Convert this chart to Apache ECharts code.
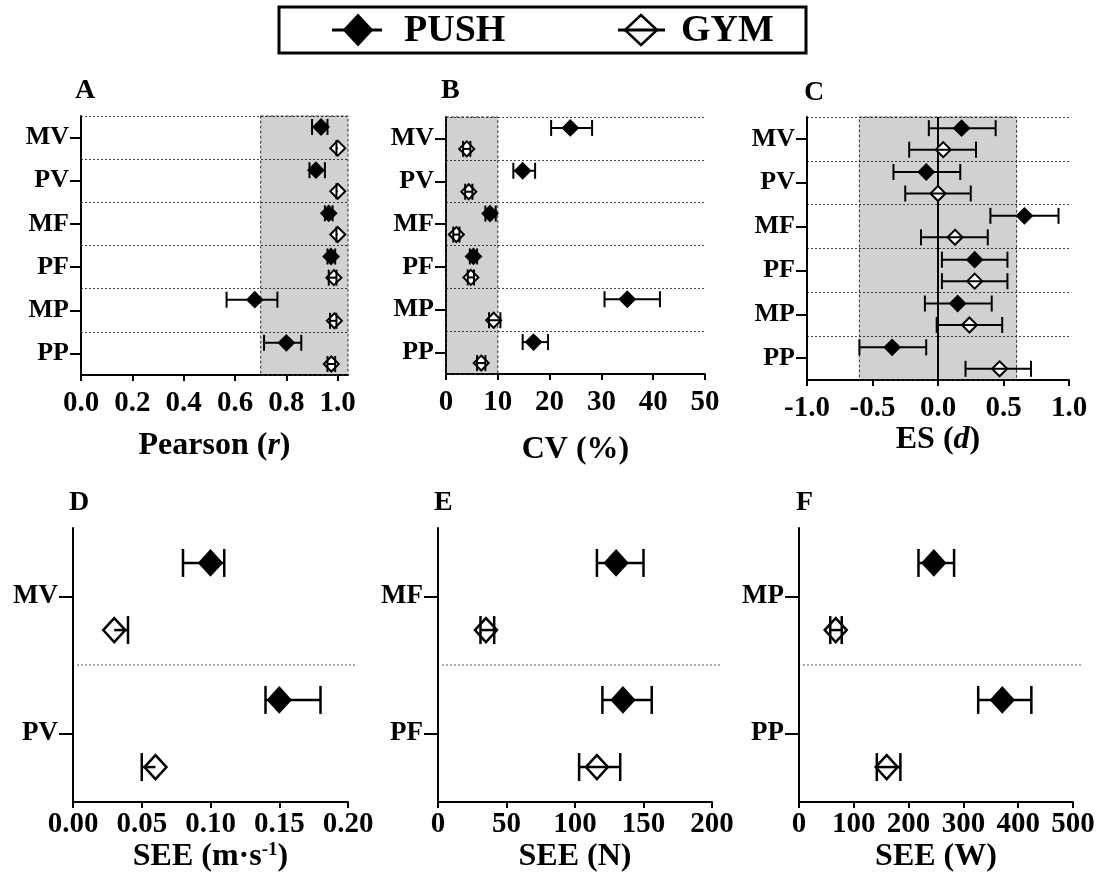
<!DOCTYPE html>
<html><head><meta charset="utf-8">
<script src="https://cdn.jsdelivr.net/npm/echarts@6/dist/echarts.min.js"></script>
<style>html,body{margin:0;padding:0;background:#fff}#c{width:1101px;height:881px}</style>
</head><body><div id="c"></div>
<script>
// ---------- data ----------
const categories = ['MV', 'PV', 'MF', 'PF', 'MP', 'PP'];
// each entry: [mean, lower CI, upper CI]
const pearsonPush = [[0.935, 0.90, 0.96], [0.915, 0.89, 0.95], [0.965, 0.95, 0.98], [0.974, 0.96, 0.99], [0.677, 0.567, 0.765], [0.80, 0.713, 0.858]];
const pearsonGym  = [[1.0, 0.995, 1.0], [1.0, 0.995, 1.0], [1.0, 0.995, 1.0], [0.985, 0.965, 0.995], [0.987, 0.97, 0.995], [0.975, 0.96, 0.99]];
const cvPush = [[24.0, 20.3, 28.2], [14.8, 13.0, 17.2], [8.5, 7.6, 9.6], [5.3, 4.6, 6.0], [35.0, 30.6, 41.3], [16.9, 14.8, 19.7]];
const cvGym  = [[4.0, 3.3, 4.7], [4.4, 3.7, 5.1], [2.0, 1.4, 2.6], [4.8, 4.2, 5.4], [9.2, 8.3, 10.5], [6.8, 6.0, 7.6]];
const esPush = [[0.18, -0.07, 0.44], [-0.09, -0.34, 0.17], [0.66, 0.40, 0.92], [0.28, 0.03, 0.53], [0.15, -0.10, 0.41], [-0.35, -0.60, -0.09]];
const esGym  = [[0.04, -0.22, 0.29], [0.0, -0.25, 0.25], [0.13, -0.13, 0.38], [0.28, 0.03, 0.53], [0.24, -0.01, 0.49], [0.47, 0.21, 0.71]];

const velCategories = ['MV', 'PV'];
const seeVelPush = [[0.10, 0.08, 0.11], [0.15, 0.14, 0.18]];
const seeVelGym  = [[0.03, 0.03, 0.04], [0.06, 0.05, 0.06]];
const forceCategories = ['MF', 'PF'];
const seeForcePush = [[130, 116, 150], [135, 120, 156]];
const seeForceGym  = [[35, 31, 41], [116, 103, 133]];
const powerCategories = ['MP', 'PP'];
const seePowerPush = [[246, 218, 283], [371, 327, 424]];
const seePowerGym  = [[67, 57, 78], [160, 142, 185]];

// shaded reference zones
const pearsonShade = [0.7, 1.04];
const cvShade = [0, 10];
const esShade = [-0.6, 0.6];
const esZero = 0;

// ---------- helpers ----------
const FONT = '"Liberation Serif", "Times New Roman", serif';
const BLACK = '#000';

function toData(arr) { return arr.map((d, i) => [d[0], i, d[1], d[2]]); }

function makeRender(side, filled, w, h, cap, lw) {
  return function (params, api) {
    const v = api.value(0), cat = api.value(1), lo = api.value(2), hi = api.value(3);
    const c = api.coord([v, cat]);
    const band = api.size([0, 1])[1];
    const x = c[0];
    const y = c[1] + side * 0.245 * band;
    const xl = api.coord([lo, cat])[0];
    const xh = api.coord([hi, cat])[0];
    const ls = { stroke: BLACK, lineWidth: lw };
    const children = [
      { type: 'polygon', shape: { points: [[x, y - h / 2], [x + w / 2, y], [x, y + h / 2], [x - w / 2, y]] },
        style: { fill: filled ? BLACK : '#fff', stroke: BLACK, lineWidth: lw } },
      { type: 'line', shape: { x1: xl, y1: y, x2: xh, y2: y }, style: ls }
    ];
    if (lo !== v) children.push({ type: 'line', shape: { x1: xl, y1: y - cap / 2, x2: xl, y2: y + cap / 2 }, style: ls });
    if (hi !== v) children.push({ type: 'line', shape: { x1: xh, y1: y - cap / 2, x2: xh, y2: y + cap / 2 }, style: ls });
    return { type: 'group', children };
  };
}

function sepRender(params, api) {
  const a = api.coord([0, 0])[1], b = api.coord([0, 1])[1];
  const y = (a + b) / 2;
  const cs = params.coordSys;
  return { type: 'line', shape: { x1: cs.x + 4, y1: y, x2: cs.x + cs.width + 8, y2: y },
    style: { stroke: '#555', lineWidth: 1, lineDash: [2, 2] } };
}

const grids = [
  { left: 81, top: 116, width: 267, height: 259 },
  { left: 446, top: 117, width: 259, height: 257 },
  { left: 807, top: 117, width: 262, height: 263 },
  { left: 73, top: 528, width: 275, height: 274 },
  { left: 438, top: 528, width: 274, height: 274 },
  { left: 799, top: 528, width: 274, height: 274 }
].map(g => Object.assign({ containLabel: false, outerBoundsMode: 'none' }, g));

const nameStyle = {
  fontFamily: FONT, fontWeight: 'bold', fontSize: 32, color: BLACK,
  rich: {
    i: { fontFamily: FONT, fontWeight: 'bold', fontStyle: 'italic', fontSize: 32, color: BLACK },
    sup: { fontFamily: FONT, fontWeight: 'bold', fontSize: 19, color: BLACK, verticalAlign: 'top' }
  }
};

function xAxis(gi, min, max, interval, digits, name, nameGap, margin) {
  return {
    type: 'value', gridIndex: gi, min, max, interval,
    axisLine: { show: true, onZero: false, lineStyle: { color: BLACK, width: 2 } },
    axisTick: { show: true, length: 6, lineStyle: { color: BLACK, width: 2 } },
    axisLabel: { fontFamily: FONT, fontWeight: 'bold', fontSize: 29, color: BLACK, margin,
      showMaxLabel: gi === 0 ? false : true,
      formatter: v => v.toFixed(digits) },
    splitLine: { show: false },
    name, nameLocation: 'middle', nameGap, nameTextStyle: nameStyle
  };
}

function yAxis(gi, data, top) {
  const tl = top ? 11 : 14;
  return {
    type: 'category', gridIndex: gi, data, inverse: true,
    axisLine: { show: true, onZero: false, lineStyle: { color: BLACK, width: 2 } },
    axisTick: { show: true, alignWithLabel: true, interval: 0, length: tl, lineStyle: { color: BLACK, width: 2 } },
    axisLabel: { interval: 0, margin: tl + 1, fontFamily: FONT, fontWeight: 'bold', fontSize: top ? 26 : 27, color: BLACK },
    splitLine: { show: top, interval: 0, lineStyle: { color: '#444', width: 1, type: [2, 2] } }
  };
}

const topSize = [15, 15, 16, 2];
const botSize = [22, 24, 28, 2.5];

function pairSeries(gi, push, gym, sz) {
  return [
    { type: 'custom', name: 'PUSH', xAxisIndex: gi, yAxisIndex: gi, z: 5,
      renderItem: makeRender(-1, true, sz[0], sz[1], sz[2], sz[3]),
      encode: { x: [0, 2, 3], y: 1 }, data: toData(push) },
    { type: 'custom', name: 'GYM', xAxisIndex: gi, yAxisIndex: gi, z: 5,
      renderItem: makeRender(1, false, sz[0], sz[1], sz[2], sz[3]),
      encode: { x: [0, 2, 3], y: 1 }, data: toData(gym) }
  ];
}

function shadeSeries(gi, range) {
  return { type: 'line', xAxisIndex: gi, yAxisIndex: gi, z: 1, data: [], silent: true,
    markArea: { silent: true,
      itemStyle: { color: 'rgba(0,0,0,0.18)', borderColor: '#333', borderWidth: 1, borderType: [3, 2] },
      data: [[{ xAxis: range[0] }, { xAxis: range[1] }]] } };
}

function sepSeries(gi) {
  return { type: 'custom', xAxisIndex: gi, yAxisIndex: gi, z: 2, silent: true,
    renderItem: sepRender, encode: { x: 0, y: 1 }, data: [[0, 0]] };
}

const series = [
  shadeSeries(0, pearsonShade), ...pairSeries(0, pearsonPush, pearsonGym, topSize),
  shadeSeries(1, cvShade), ...pairSeries(1, cvPush, cvGym, topSize),
  shadeSeries(2, esShade),
  { type: 'line', xAxisIndex: 2, yAxisIndex: 2, z: 3, data: [], silent: true,
    markLine: { silent: true, symbol: 'none', label: { show: false },
      lineStyle: { color: BLACK, width: 2, type: 'solid' }, data: [{ xAxis: esZero }] } },
  ...pairSeries(2, esPush, esGym, topSize),
  sepSeries(3), ...pairSeries(3, seeVelPush, seeVelGym, botSize),
  sepSeries(4), ...pairSeries(4, seeForcePush, seeForceGym, botSize),
  sepSeries(5), ...pairSeries(5, seePowerPush, seePowerGym, botSize)
];

const letterFont = 'bold 28px ' + FONT;
function letter(t, x, y) {
  return { type: 'text', left: x, top: y, style: { text: t, font: letterFont, fill: BLACK } };
}

const legendY = 30;
const graphic = [
  { type: 'rect', shape: { x: 279, y: 7, width: 527, height: 46 }, style: { fill: '#fff', stroke: BLACK, lineWidth: 3 } },
  { type: 'line', shape: { x1: 332, y1: legendY, x2: 382, y2: legendY }, style: { stroke: BLACK, lineWidth: 3 } },
  { type: 'polygon', shape: { points: [[358, legendY - 15], [372, legendY], [358, legendY + 15], [344, legendY]] }, style: { fill: BLACK, stroke: BLACK, lineWidth: 2 } },
  { type: 'text', x: 404, y: legendY + 1, style: { text: 'PUSH', font: 'bold 38px ' + FONT, fill: BLACK, verticalAlign: 'middle' } },
  { type: 'polygon', shape: { points: [[641, legendY - 15], [657, legendY], [641, legendY + 15], [625, legendY]] }, style: { fill: '#fff', stroke: BLACK, lineWidth: 2.5 } },
  { type: 'line', shape: { x1: 618, y1: legendY, x2: 665, y2: legendY }, style: { stroke: BLACK, lineWidth: 3 } },
  { type: 'text', x: 681, y: legendY + 1, style: { text: 'GYM', font: 'bold 38px ' + FONT, fill: BLACK, verticalAlign: 'middle' } },
  letter('A', 75, 77), letter('B', 441, 77), letter('C', 804, 79),
  letter('D', 69, 489), letter('E', 434, 489), letter('F', 796, 489)
];

const option = {
  backgroundColor: '#fff',
  animation: false,
  grid: grids,
  xAxis: [
    xAxis(0, 0, 1.04, 0.2, 1, 'Pearson ({i|r})', 55, 14),
    xAxis(1, 0, 50, 10, 0, 'CV (%)', 60, 14),
    xAxis(2, -1, 1, 0.5, 1, 'ES ({i|d})', 40, 14),
    xAxis(3, 0, 0.2, 0.05, 2, 'SEE (m·s{sup|-1})', 39, 8),
    xAxis(4, 0, 200, 50, 0, 'SEE (N)', 39, 8),
    xAxis(5, 0, 500, 100, 0, 'SEE (W)', 39, 8)
  ],
  yAxis: [
    yAxis(0, categories, true), yAxis(1, categories, true), yAxis(2, categories, true),
    yAxis(3, velCategories, false), yAxis(4, forceCategories, false), yAxis(5, powerCategories, false)
  ],
  series,
  graphic
};

const chart = echarts.init(document.getElementById('c'), null, { renderer: 'canvas' });
chart.setOption(option);
</script>
</body></html>
